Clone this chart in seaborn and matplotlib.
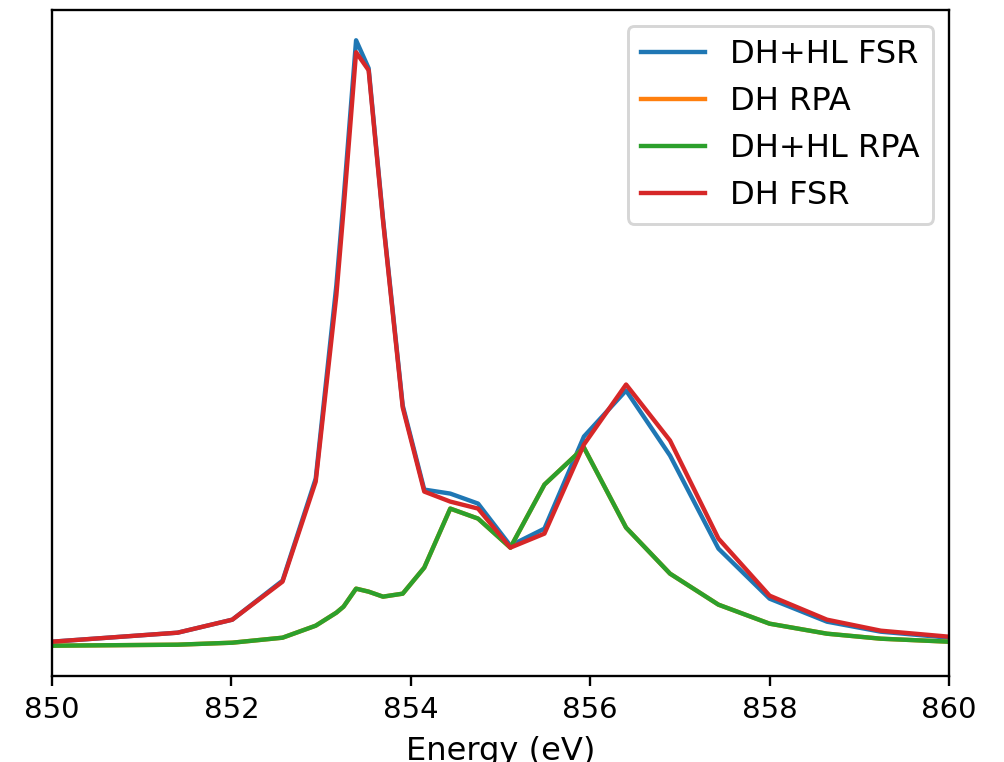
import numpy as np
import pandas as pd
import matplotlib
matplotlib.use('Agg')
import matplotlib.pyplot as plt
import seaborn as sns

# Energy grid (eV) shared by all spectra
energy = [850.00, 851.40, 852.01, 852.57, 852.94, 853.17, 853.25, 853.39,
          853.53, 853.69, 853.91, 854.15, 854.44, 854.75, 855.11, 855.49,
          855.93, 856.40, 856.89, 857.43, 858.00, 858.64, 859.24, 860.00]

# Intensities (arbitrary units)
dh_hl_fsr = [0.05, 0.14, 0.27, 0.66, 1.68, 3.61, 4.46, 6.06,
             5.78, 4.28, 2.41, 1.57, 1.53, 1.43, 1.01, 1.18,
             2.10, 2.56, 1.91, 0.98, 0.48, 0.25, 0.15, 0.09]
dh_rpa = [0.01, 0.02, 0.04, 0.09, 0.21, 0.34, 0.40, 0.58,
          0.55, 0.50, 0.53, 0.79, 1.38, 1.28, 0.99, 1.62,
          1.99, 1.19, 0.73, 0.42, 0.23, 0.13, 0.08, 0.05]
dh_hl_rpa = [0.01, 0.02, 0.04, 0.09, 0.21, 0.34, 0.40, 0.58,
             0.55, 0.50, 0.53, 0.79, 1.38, 1.28, 0.99, 1.62,
             1.99, 1.19, 0.73, 0.42, 0.23, 0.13, 0.08, 0.05]
dh_fsr = [0.05, 0.14, 0.27, 0.65, 1.65, 3.51, 4.36, 5.94,
          5.76, 4.26, 2.39, 1.55, 1.45, 1.38, 0.99, 1.13,
          2.02, 2.62, 2.06, 1.08, 0.51, 0.27, 0.16, 0.10]

series = {
    'DH+HL FSR': dh_hl_fsr,
    'DH RPA': dh_rpa,
    'DH+HL RPA': dh_hl_rpa,
    'DH FSR': dh_fsr,
}
colors = sns.color_palette('tab10', 4)

dpi = 210
fig = plt.figure(figsize=(1004 / dpi, 762 / dpi), dpi=dpi)
ax = fig.add_axes([0.0518, 0.1129, 0.8934, 0.874])

for (name, vals), c in zip(series.items(), colors):
    df = pd.DataFrame({'Energy': energy, 'Intensity': vals})
    sns.lineplot(data=df, x='Energy', y='Intensity', ax=ax, color=c,
                 label=name, linewidth=1.5, sort=False)

ax.set_xlim(850, 860)
ax.set_yticks([])
ax.set_ylabel('')
ax.set_xlabel('Energy (eV)', fontsize=11)
ax.legend(loc='upper right', fontsize=11)

fig.savefig('out.png', dpi=dpi)
